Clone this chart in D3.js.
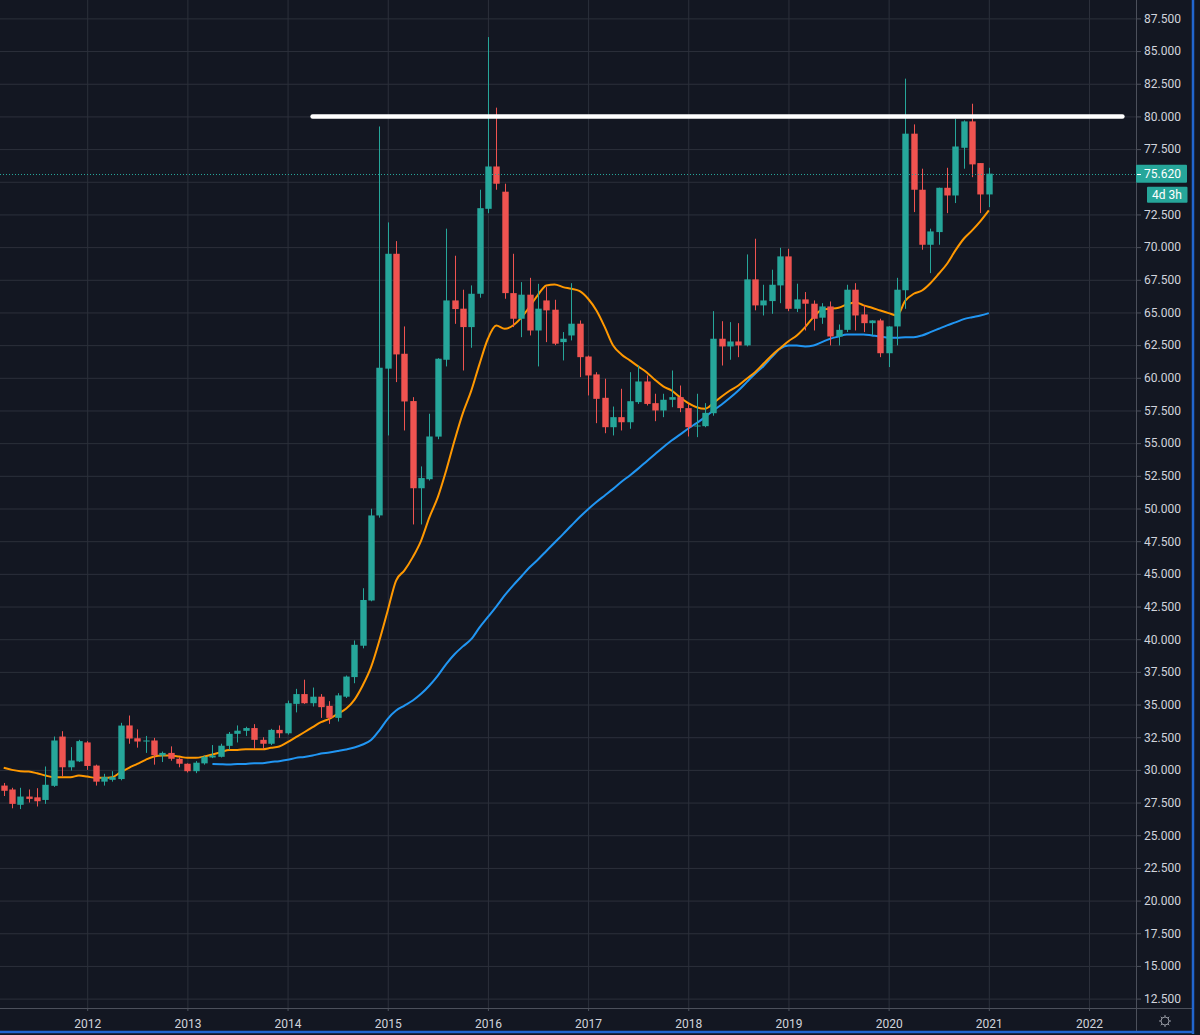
<!DOCTYPE html>
<html>
<head>
<meta charset="utf-8">
<script src="https://cdn.jsdelivr.net/npm/d3@7"></script>
<style>
  html, body { margin: 0; padding: 0; background: #131722; }
  svg { display: block; }
  .ytick text, .xtick text { font-family: Roboto, "DejaVu Sans", sans-serif; }
</style>
</head>
<body>
<svg id="chart"></svg>
<script>
// monthly candles, first one is March 2011
const firstMonth = new Date(2011, 2, 1);

const open = [
  28.8, 28.5, 27.33, 27.96, 27.9, 27.7, 28.78, 32.55, 30.2, 30.65,
  32.1, 30.33, 29.1, 29.24, 29.3, 33.4, 32.42, 32.17, 32.25, 31.1, 31.3, 30.85,
  30.47, 29.9, 30.5, 30.95, 31.0, 31.84, 32.76, 32.99, 33.2, 32.3, 32.0, 33.06,
  32.8, 35.05, 35.8, 35.1, 35.6, 34.9, 33.98, 35.6, 37.1, 39.5, 42.96, 49.47,
  60.7, 69.49, 61.84, 58.22, 51.55, 52.24, 55.5, 61.38, 65.92, 65.29, 63.88, 66.43,
  72.93, 76.17, 74.24, 66.48, 64.52, 66.36, 63.62, 65.92, 65.21, 62.73, 63.24, 64.14,
  61.63, 60.26, 58.47, 56.22, 56.99, 56.6, 58.14, 59.72, 58.06, 57.5, 58.32, 58.52,
  57.68, 56.3, 56.3, 57.29, 62.99, 62.4, 62.78, 62.48, 67.53, 65.54, 65.87, 67.07,
  69.29, 65.28, 66.0, 65.67, 64.6, 65.46, 63.16, 63.67, 66.74, 64.85, 64.18, 64.39,
  61.88, 63.93, 66.7, 78.68, 74.39, 70.18, 71.15, 74.54, 73.95, 77.6, 79.62, 76.43,
  74.03
];
const high = [
  29.0, 28.63, 28.63, 28.5, 28.6, 30.26, 32.55, 32.96, 31.74, 32.3,
  32.2, 30.4, 29.7, 29.9, 33.6, 34.16, 33.1, 32.6, 32.45, 31.4, 31.8, 30.97,
  30.5, 30.67, 31.1, 31.9, 32.0, 32.9, 33.4, 33.3, 33.5, 32.5, 33.14, 33.4,
  35.3, 36.2, 36.9, 36.3, 35.8, 35.26, 35.87, 37.22, 39.9, 43.9, 49.98, 79.23,
  71.89, 70.46, 63.93, 58.52, 53.22, 57.25, 61.5, 71.41, 69.34, 66.74, 67.07, 74.39,
  86.07, 80.67, 74.85, 69.49, 67.32, 67.65, 67.19, 66.94, 65.97, 63.5, 67.24, 64.39,
  61.7, 60.43, 59.93, 57.8, 59.16, 60.43, 60.94, 60.18, 58.78, 58.78, 60.56, 59.41,
  58.0, 58.78, 58.06, 65.1, 64.33, 64.26, 64.18, 69.44, 70.64, 67.12, 68.27, 69.95,
  69.87, 67.2, 66.56, 65.92, 65.71, 65.84, 64.08, 67.12, 67.24, 65.54, 64.4, 64.52,
  63.95, 67.65, 82.89, 79.39, 76.0, 71.41, 74.55, 76.07, 79.82, 79.7, 80.97, 76.43,
  76.07
];
const low = [
  28.0, 27.06, 27.0, 27.5, 27.2, 27.4, 28.7, 29.51, 29.95, 30.6,
  30.0, 28.8, 28.8, 29.1, 29.2, 32.0, 31.7, 31.3, 30.4, 30.6, 30.7, 30.2,
  29.8, 29.75, 30.4, 30.9, 30.95, 31.55, 32.1, 32.6, 31.6, 31.6, 31.9, 32.45,
  32.7, 34.4, 35.05, 34.85, 33.98, 33.52, 33.7, 35.5, 36.63, 39.3, 42.9, 49.3,
  55.59, 59.67, 55.97, 48.78, 48.78, 52.14, 55.3, 60.87, 64.13, 60.56, 62.3, 66.13,
  72.6, 74.39, 66.05, 63.88, 63.11, 63.24, 60.87, 62.73, 62.5, 61.33, 62.86, 60.05,
  58.65, 56.53, 55.76, 55.59, 55.97, 56.1, 58.0, 57.88, 56.68, 56.99, 57.75, 57.37,
  55.51, 55.46, 56.22, 57.1, 60.94, 61.38, 61.58, 62.4, 65.16, 64.77, 64.9, 65.71,
  65.1, 65.03, 63.62, 63.62, 64.13, 62.48, 62.48, 63.5, 63.62, 63.5, 63.24, 61.58,
  60.82, 62.48, 65.28, 72.68, 69.8, 68.01, 70.18, 72.6, 73.37, 76.0, 75.35, 72.6,
  73.06
];
const close = [
  28.4, 27.4, 27.96, 27.78, 27.6, 28.86, 32.25, 30.2, 30.72, 32.2,
  30.3, 29.1, 29.45, 29.44, 33.39, 32.4, 32.17, 32.25, 31.12, 31.3, 30.85, 30.47,
  29.9, 30.55, 31.0, 31.1, 31.85, 32.76, 33.0, 33.2, 32.3, 32.0, 33.06, 32.8,
  35.1, 35.8, 35.1, 35.6, 34.8, 33.98, 35.7, 37.14, 39.57, 43.0, 49.47, 60.77,
  69.49, 61.79, 58.19, 51.55, 52.33, 55.51, 61.46, 65.92, 65.26, 63.88, 66.43, 72.98,
  76.17, 74.85, 66.48, 64.52, 66.36, 63.62, 65.29, 65.16, 62.61, 62.99, 64.14, 61.58,
  60.18, 58.39, 56.22, 56.99, 56.6, 58.21, 59.72, 58.0, 57.5, 58.32, 58.52, 57.68,
  56.22, 56.35, 57.32, 62.99, 62.4, 62.78, 62.48, 67.53, 65.54, 65.92, 67.12, 69.29,
  65.28, 66.0, 65.67, 64.52, 65.46, 63.16, 63.67, 66.74, 64.77, 64.18, 64.39, 61.88,
  63.93, 66.74, 78.68, 74.39, 70.18, 71.2, 74.54, 73.95, 77.7, 79.62, 76.33, 74.03,
  75.62
];

// orange moving average, one value per candle
const maFast = [
  30.16, 30.0, 29.9, 29.87, 29.74, 29.57, 29.44, 29.44, 29.44, 29.57,
  29.49, 29.39, 29.39, 29.44, 29.82, 30.16, 30.46, 30.77, 31.02, 31.1, 31.1, 31.02,
  30.92, 30.92, 31.02, 31.18, 31.35, 31.53, 31.53, 31.58, 31.58, 31.58, 31.69, 31.79,
  32.12, 32.5, 32.88, 33.27, 33.65, 33.91, 34.29, 34.67, 35.36, 36.46, 37.86, 39.9,
  42.2, 44.49, 45.26, 46.28, 47.55, 49.34, 50.87, 52.91, 55.2, 57.3, 59.0, 61.07,
  62.99, 64.0, 63.75, 64.0, 64.6, 65.45, 66.35, 67.07, 67.14, 66.94, 66.81, 66.63,
  66.05, 65.15, 63.88, 62.47, 61.79, 61.33, 60.87, 60.43, 59.85, 59.34, 59.03, 58.52,
  58.06, 57.75, 57.63, 58.06, 58.57, 59.03, 59.41, 59.93, 60.43, 61.07, 61.71, 62.27,
  62.8, 63.24, 63.88, 64.64, 65.21, 65.28, 65.36, 65.61, 65.79, 65.54, 65.36, 65.15,
  64.95, 64.77, 65.9, 66.43, 66.68, 67.24, 67.96, 68.73, 69.75, 70.64, 71.28, 71.99,
  72.81
];

// blue moving average, starts at April 2013
const maSlowStart = new Date(2013, 3, 1);
const maSlow = [
  30.46, 30.43, 30.41, 30.46, 30.46, 30.51, 30.51, 30.61, 30.66,
  30.77, 30.92, 30.99, 31.1, 31.25, 31.33, 31.44, 31.56, 31.71, 31.94, 32.28, 33.03,
  33.91, 34.54, 34.92, 35.31, 35.82, 36.46, 37.22, 38.1, 38.85, 39.45, 40.0, 40.9,
  41.7, 42.5, 43.35, 44.1, 44.8, 45.5, 46.1, 46.75, 47.4, 48.04, 48.7, 49.35,
  49.95, 50.5, 51.0, 51.5, 52.05, 52.53, 53.05, 53.6, 54.15, 54.69, 55.2, 55.65,
  56.12, 56.53, 56.99, 57.5, 57.96, 58.47, 59.03, 59.67, 60.31, 60.89, 61.58, 62.22,
  62.47, 62.47, 62.4, 62.47, 62.73, 62.99, 63.16, 63.32, 63.32, 63.32, 63.24, 63.16,
  63.06, 63.06, 63.11, 63.11, 63.24, 63.49, 63.75, 64.01, 64.24, 64.49, 64.64, 64.77,
  64.95
];

// price axis ticks and year labels
const priceTicks = d3.range(12.5, 87.6, 2.5);
const yearTicks = [2012, 2013, 2014, 2015, 2016, 2017, 2018, 2019, 2020, 2021, 2022];

// drawn resistance line
const levelValue = 80;
const levelFrom = new Date(2014, 3, 1);
const levelTo = new Date(2022, 4, 1);

const countdown = "4d 3h";

const W = 1200, H = 1035;
const plotW = 1136, plotH = 1008;

const colors = {
  bg: "#131722",
  grid: "#2c303b",
  axisLine: "#4c505b",
  text: "#d1d4dc",
  up: "#26a69a",
  down: "#ef5350",
  fast: "#ff9800",
  slow: "#2196f3",
  frame: "#2166cf"
};

// month index counted from January 2012
const monthIdx = d => (d.getFullYear() - 2012) * 12 + d.getMonth();

const candles = close.map((c, i) => {
  const date = d3.timeMonth.offset(firstMonth, i);
  return { date, open: open[i], high: high[i], low: low[i], close: c, ma: maFast[i] };
});
const slowData = maSlow.map((v, i) => ({ date: d3.timeMonth.offset(maSlowStart, i), value: v }));

const svg = d3.select("#chart").attr("width", W).attr("height", H);
svg.append("rect").attr("width", W).attr("height", H).attr("fill", colors.bg);

const x = d3.scaleLinear().domain([0, 120]).range([87.2, 1089]);
const y = d3.scaleLinear().domain([12.5, 87.5]).range([998.6, 18.4]);
const xd = d => x(monthIdx(d));

svg.append("defs").append("clipPath").attr("id", "plot-clip")
  .append("rect").attr("width", plotW).attr("height", plotH);

// grid
const grid = svg.append("g");
grid.append("g")
  .attr("transform", `translate(0,${plotH})`)
  .call(d3.axisBottom(x).tickValues(yearTicks.map(yr => (yr - 2012) * 12)).tickSize(-plotH).tickFormat(""))
  .call(g => g.select(".domain").remove())
  .selectAll("line").attr("stroke", colors.grid);
grid.append("g")
  .call(d3.axisRight(y).tickValues(priceTicks).tickSize(plotW).tickFormat(""))
  .call(g => g.select(".domain").remove())
  .selectAll("line").attr("stroke", colors.grid);

const plot = svg.append("g").attr("clip-path", "url(#plot-clip)");

// moving averages
const line = d3.line().curve(d3.curveMonotoneX);
plot.append("path")
  .attr("d", line(slowData.map(d => [xd(d.date), y(d.value)])))
  .attr("fill", "none").attr("stroke", colors.slow).attr("stroke-width", 2);
plot.append("path")
  .attr("d", line(candles.map(d => [xd(d.date), y(d.ma)])))
  .attr("fill", "none").attr("stroke", colors.fast).attr("stroke-width", 2);

// candles
const bodyW = 6.4;
const cg = plot.selectAll(".candle").data(candles).enter().append("g").attr("class", "candle");
cg.append("line")
  .attr("x1", d => Math.round(xd(d.date)) + 0.5)
  .attr("x2", d => Math.round(xd(d.date)) + 0.5)
  .attr("y1", d => y(d.high))
  .attr("y2", d => y(d.low))
  .attr("stroke", d => d.close >= d.open ? colors.up : colors.down)
  .attr("stroke-width", 1);
cg.append("rect")
  .attr("x", d => Math.round(xd(d.date)) + 0.5 - bodyW / 2)
  .attr("width", bodyW)
  .attr("y", d => y(Math.max(d.open, d.close)))
  .attr("height", d => Math.max(1, Math.abs(y(d.open) - y(d.close))))
  .attr("fill", d => d.close >= d.open ? colors.up : colors.down);

// horizontal level line
plot.append("line")
  .attr("x1", xd(levelFrom)).attr("x2", xd(levelTo))
  .attr("y1", y(levelValue)).attr("y2", y(levelValue))
  .attr("stroke", "#ffffff").attr("stroke-width", 4.5).attr("stroke-linecap", "round");

// last price dotted line
const last = candles[candles.length - 1];
plot.append("line")
  .attr("x1", 0).attr("x2", plotW)
  .attr("y1", Math.round(y(last.close)) + 0.5).attr("y2", Math.round(y(last.close)) + 0.5)
  .attr("stroke", colors.up).attr("stroke-width", 1).attr("stroke-dasharray", "1 2");

const ly = y(last.close);

// price axis (labels hidden under the last-price tag are left out, as on screen)
const yAxis = svg.append("g")
  .attr("class", "ytick")
  .attr("transform", `translate(${plotW},0)`)
  .call(d3.axisRight(y).tickValues(priceTicks.filter(v => Math.abs(y(v) - ly) > 14 || Math.abs(y(v) - ly) < 0))
    .tickSize(5).tickPadding(3).tickFormat(d3.format(".3f")));
yAxis.select(".domain").remove();
yAxis.selectAll("line").attr("stroke", colors.axisLine);
yAxis.selectAll("text").attr("fill", colors.text).style("font-size", "12px");

// time axis
const xAxis = svg.append("g")
  .attr("class", "xtick")
  .attr("transform", `translate(0,${plotH})`)
  .call(d3.axisBottom(x).tickValues(yearTicks.map(yr => (yr - 2012) * 12)).tickSize(3).tickPadding(8)
    .tickFormat((d, i) => yearTicks[i]));
xAxis.select(".domain").remove();
xAxis.selectAll("line").attr("stroke", colors.axisLine);
xAxis.selectAll("text").attr("fill", colors.text).style("font-size", "12px");

// axis separators
svg.append("line").attr("x1", plotW + 0.5).attr("x2", plotW + 0.5).attr("y1", 0).attr("y2", 1031)
  .attr("stroke", colors.axisLine);
svg.append("line").attr("x1", 0).attr("x2", 1192).attr("y1", plotH + 0.5).attr("y2", plotH + 0.5)
  .attr("stroke", colors.axisLine);

// last price label + countdown
svg.append("rect").attr("x", plotW).attr("y", ly - 9).attr("width", 51).attr("height", 18)
  .attr("fill", colors.up).attr("rx", 1);
svg.append("line").attr("x1", plotW + 1).attr("x2", plotW + 5).attr("y1", Math.round(ly) + 0.5).attr("y2", Math.round(ly) + 0.5)
  .attr("stroke", "#ffffff");
svg.append("text").attr("x", 1144).attr("y", ly + 4.5)
  .attr("fill", "#ffffff").style("font", "12px Roboto, sans-serif")
  .text(d3.format(".3f")(last.close));
svg.append("rect").attr("x", 1147).attr("y", ly + 13).attr("width", 40.5).attr("height", 16)
  .attr("fill", colors.up).attr("rx", 1);
svg.append("text").attr("x", 1167).attr("y", ly + 25.3).attr("text-anchor", "middle")
  .attr("fill", "#ffffff").style("font", "12px Roboto, sans-serif")
  .text(countdown);

// settings icon
const gear = svg.append("g").attr("transform", "translate(1165,1021)")
  .attr("stroke", "#9598a1").attr("fill", "none").attr("stroke-width", 1);
gear.append("circle").attr("r", 4);
d3.range(8).forEach(k => {
  const a = k * Math.PI / 4;
  gear.append("line")
    .attr("x1", Math.cos(a) * 4).attr("y1", Math.sin(a) * 4)
    .attr("x2", Math.cos(a) * 6).attr("y2", Math.sin(a) * 6);
});

// focus frame
svg.append("line").attr("x1", 1193).attr("x2", 1193).attr("y1", 0).attr("y2", 1034)
  .attr("stroke", colors.frame).attr("stroke-width", 2.5);
svg.append("line").attr("x1", 0).attr("x2", 1194).attr("y1", 1032).attr("y2", 1032)
  .attr("stroke", colors.frame).attr("stroke-width", 2.5);
</script>
</body>
</html>
